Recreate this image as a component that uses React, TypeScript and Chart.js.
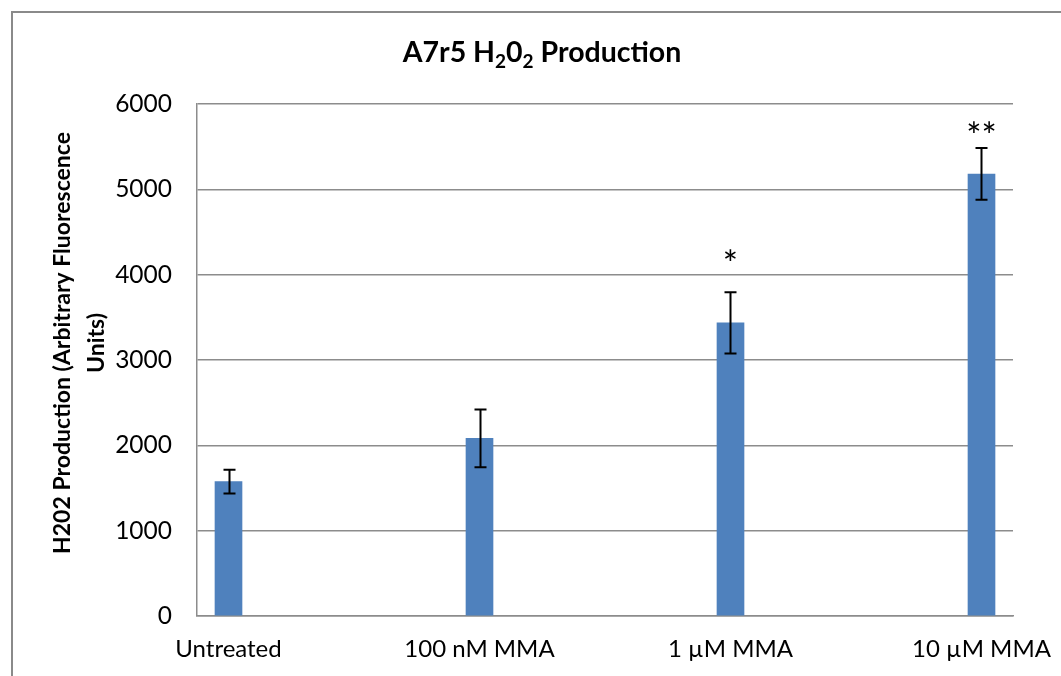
import React, { useEffect, useRef } from "react";
import { Chart, registerables } from "chart.js";

Chart.register(...registerables);

const categories = ["Untreated", "100 nM MMA", "1 µM MMA", "10 µM MMA"];
const means = [1575, 2082, 3435, 5180];
const errors = [139, 338, 360, 303];
const sigLabels = ["", "", "*", "**"];
const sigValues = [null, null, 4230, 5730];
const yTicks = [0, 1000, 2000, 3000, 4000, 5000, 6000];
const titleParts = [
  { text: "A7r5 H", sub: false },
  { text: "2", sub: true },
  { text: "0", sub: false },
  { text: "2", sub: true },
  { text: " Production", sub: false },
];
const yTitleLines = ["H202 Production (Arbitrary Fluorescence", "Units)"];

const FONT = "Lato, 'Open Sans', sans-serif";
const GRID = "#8c8c8c";

const overlay = {
  id: "overlay",
  afterDatasetsDraw(chart: any) {
    const ctx = chart.ctx;
    const ys = chart.scales.y;
    const meta = chart.getDatasetMeta(0);
    ctx.save();
    ctx.strokeStyle = "#000";
    ctx.lineWidth = 2;
    meta.data.forEach((bar: any, i: number) => {
      const x = Math.round(bar.x) + 0.5;
      const t = ys.getPixelForValue(means[i] + errors[i]);
      const b = ys.getPixelForValue(means[i] - errors[i]);
      ctx.beginPath();
      ctx.moveTo(x, t);
      ctx.lineTo(x, b);
      ctx.moveTo(x - 6, t);
      ctx.lineTo(x + 6, t);
      ctx.moveTo(x - 6, b);
      ctx.lineTo(x + 6, b);
      ctx.stroke();
    });
    // significance marks
    ctx.fillStyle = "#000";
    ctx.font = `36px ${FONT}`;
    ctx.textAlign = "center";
    ctx.textBaseline = "alphabetic";
    meta.data.forEach((bar: any, i: number) => {
      const lab = sigLabels[i];
      const v = sigValues[i];
      if (!lab || v == null) return;
      const yc = ys.getPixelForValue(v);
      const m = ctx.measureText(lab);
      const asc = m.actualBoundingBoxAscent;
      const desc = m.actualBoundingBoxDescent;
      ctx.fillText(lab, bar.x, yc + (asc - desc) / 2);
    });
    ctx.restore();
  },
  afterDraw(chart: any) {
    const ctx = chart.ctx;
    ctx.save();
    // outer frame (extends beyond the visible page)
    ctx.strokeStyle = "#8a8a8a";
    ctx.lineWidth = 2;
    ctx.beginPath();
    ctx.moveTo(12, 700);
    ctx.lineTo(12, 12);
    ctx.lineTo(1100, 12);
    ctx.stroke();

    // title with subscripts
    const big = `bold 28.5px ${FONT}`;
    const small = `bold 19px ${FONT}`;
    let total = 0;
    titleParts.forEach((p) => {
      ctx.font = p.sub ? small : big;
      total += ctx.measureText(p.text).width;
    });
    let x = 542 - total / 2;
    const base = 62;
    ctx.fillStyle = "#000";
    ctx.textAlign = "left";
    ctx.textBaseline = "alphabetic";
    titleParts.forEach((p) => {
      ctx.font = p.sub ? small : big;
      ctx.fillText(p.text, x, p.sub ? base + 6 : base);
      x += ctx.measureText(p.text).width;
    });

    // y axis title
    ctx.translate(63, 343);
    ctx.rotate(-Math.PI / 2);
    ctx.font = `bold 23px ${FONT}`;
    ctx.textAlign = "center";
    ctx.textBaseline = "middle";
    yTitleLines.forEach((l, i) => ctx.fillText(l, 0, i * 34));
    ctx.restore();
  },
};

export default function App() {
  const ref = useRef<HTMLCanvasElement | null>(null);
  useEffect(() => {
    if (!ref.current) return;
    const chart = new Chart(ref.current, {
      type: "bar",
      data: {
        datasets: [
          {
            data: means.map((v, i) => ({ x: i, y: v })),
            backgroundColor: "#4F81BD",
            borderWidth: 0,
            barThickness: 27,
          },
        ],
      },
      options: {
        animation: false,
        responsive: true,
        maintainAspectRatio: false,
        layout: { padding: { left: 0, right: 48, top: 104, bottom: 0 } },
        plugins: {
          legend: { display: false },
          title: { display: false },
          tooltip: { enabled: false },
        },
        scales: {
          x: {
            type: "linear",
            offset: false,
            min: -0.1255,
            max: 3.1255,
            afterBuildTicks: (s: any) => {
              s.ticks = categories.map((_, i) => ({ value: i }));
            },
            afterFit: (s: any) => {
              s.height = 60;
              s.paddingLeft = 0;
              s.paddingRight = 0;
            },
            grid: { display: false, drawTicks: false, offset: false },
            border: { display: true, color: GRID, width: 1.5 },
            ticks: {
              callback: (v: any) => categories[v as number] ?? "",
              autoSkip: false,
              maxRotation: 0,
              padding: 19,
              color: "#000",
              font: { family: FONT, size: 24 },
            },
          },
          y: {
            min: 0,
            max: 6000,
            afterBuildTicks: (s: any) => {
              s.ticks = yTicks.map((v) => ({ value: v }));
            },
            afterFit: (s: any) => {
              s.width = 197;
              s.paddingTop = 0;
              s.paddingBottom = 0;
            },
            grid: { color: GRID, lineWidth: 1.5, drawTicks: false },
            border: { display: true, color: GRID, width: 1.5 },
            ticks: {
              callback: (v: any) => String(v),
              padding: 25,
              color: "#000",
              font: { family: FONT, size: 24.5 },
            },
          },
        },
      },
      plugins: [overlay],
    });
    return () => chart.destroy();
  }, []);
  return (
    <div
      style={{
        position: "absolute",
        left: 0,
        top: 0,
        width: 1061,
        height: 676,
        background: "#fff",
      }}
    >
      <canvas ref={ref} />
    </div>
  );
}
